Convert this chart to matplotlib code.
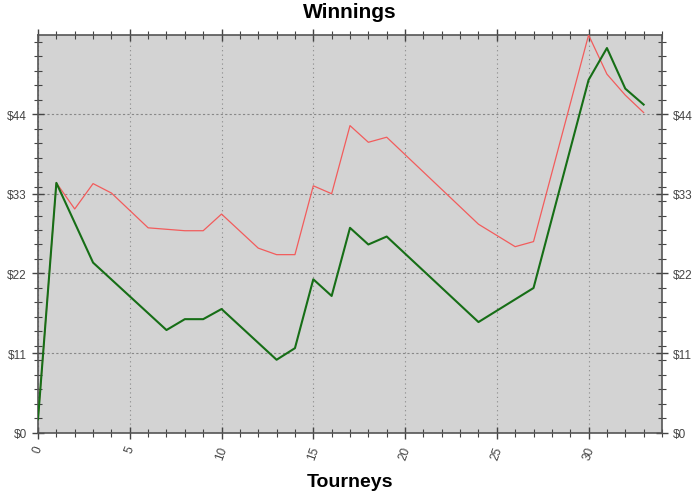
import matplotlib
matplotlib.use('Agg')
import matplotlib.pyplot as plt
from matplotlib.ticker import MultipleLocator, FuncFormatter

plt.rcParams['font.family'] = ['Liberation Sans', 'DejaVu Sans']

# tourney index / winnings, vertices
green_x = [0, 1, 3, 7, 8, 9, 10, 13, 14, 15, 16, 17, 18, 19, 24, 27, 30, 31, 32, 33]
green_y = [1.9, 34.5, 23.5, 14.2, 15.7, 15.7, 17.1, 10.1, 11.7, 21.2, 18.9, 28.3, 26.0, 27.1,
           15.3, 20.0, 48.7, 53.1, 47.5, 45.3]

red_x = [0, 1, 2, 3, 4, 6, 8, 9, 10, 12, 13, 14, 15, 16, 17, 18, 19, 24, 26, 27, 30, 31, 32, 33]
red_y = [1.9, 34.5, 30.9, 34.4, 33.1, 28.3, 27.9, 27.9, 30.2, 25.5, 24.6, 24.6, 34.1, 33.0,
         42.4, 40.1, 40.8, 28.8, 25.7, 26.4, 54.9, 49.5, 46.6, 44.2]

y_major = [0, 11, 22, 33, 44]

fig = plt.figure(figsize=(7, 5.02), dpi=100)
ax = fig.add_axes([0.0543, 0.1355, 0.8914, 0.7928])
ax.set_facecolor('#d3d3d3')

ax.plot(red_x, red_y, color='#f25c5c', lw=0.9, zorder=3)
ax.plot(green_x, green_y, color='#166e16', lw=1.5, zorder=4)

ax.set_xlim(0, 34)
ax.set_ylim(0, max(red_y))

ax.xaxis.set_major_locator(MultipleLocator(5))
ax.xaxis.set_minor_locator(MultipleLocator(1))
ax.set_yticks(y_major)
ax.yaxis.set_minor_locator(MultipleLocator(2))
ax.yaxis.set_major_formatter(FuncFormatter(lambda v, p: f'${v:.0f}'))

ax.tick_params(which='both', direction='inout', colors='#444444', labelsize=8.5,
               top=True, right=True, labelright=True, labeltop=False)
ax.tick_params(which='major', length=9, width=1)
ax.tick_params(which='minor', length=6, width=0.8)
for lab in ax.get_xticklabels():
    lab.set_rotation(70)

ax.grid(axis='x', which='major', color='#888888', linestyle=(0, (1, 3)), lw=0.8)
ax.grid(axis='y', which='major', color='#888888', linestyle=(0, (2, 2)), lw=0.8)
ax.set_axisbelow(True)

for s in ax.spines.values():
    s.set_color('#555555')
    s.set_linewidth(1.2)

ax.set_title('Winnings', fontsize=15, fontweight='bold', pad=13)
ax.set_xlabel('Tourneys', fontsize=14, fontweight='bold', labelpad=9)

fig.savefig('out.png', dpi=100)
